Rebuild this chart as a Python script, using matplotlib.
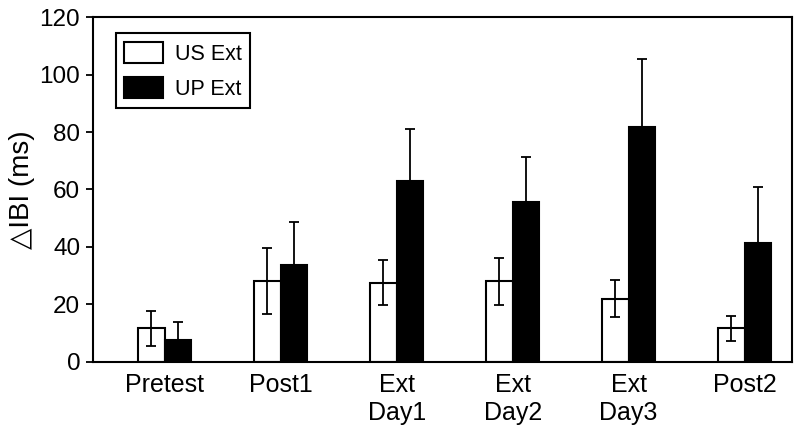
import numpy as np
import matplotlib
matplotlib.use("Agg")
import matplotlib.pyplot as plt

plt.rcParams['font.family'] = ['Liberation Sans', 'DejaVu Sans']

# data
sessions = ['Pretest', 'Post1', 'Ext\nDay1', 'Ext\nDay2', 'Ext\nDay3', 'Post2']
us_ext = [11.6, 28.1, 27.5, 28.1, 22.0, 11.6]
us_err = [6.0, 11.5, 7.9, 8.2, 6.4, 4.5]
up_ext = [7.6, 33.7, 62.8, 55.6, 81.7, 41.5]
up_err = [6.4, 15.1, 18.4, 15.7, 23.6, 19.4]

x = np.arange(len(sessions))
w = 0.23

fig = plt.figure(figsize=(8, 4.32), dpi=100)
ax = fig.add_axes([0.1159, 0.1627, 0.8737, 0.7973])

ax.bar(x - w/2, us_ext, w, color='white', edgecolor='black', linewidth=1.5, label='US Ext', zorder=2)
ax.bar(x + w/2, up_ext, w, color='black', edgecolor='black', linewidth=1.5, label='UP Ext', zorder=2)
ax.errorbar(x - w/2, us_ext, yerr=us_err, fmt='none', ecolor='black', elinewidth=1.3,
            capsize=3.3, capthick=1.3, zorder=3)
ax.errorbar(x + w/2, up_ext, yerr=[np.zeros(len(up_err)), up_err], fmt='none', ecolor='black',
            elinewidth=1.3, capsize=3.3, capthick=1.3, zorder=1)

ax.set_xlim(-0.62, 5.405)
ax.set_ylim(0, 120)
ax.set_yticks(range(0, 121, 20))
ax.set_xticks(x)
ax.set_xticklabels(sessions, fontsize=18, linespacing=1.2)
ax.tick_params(axis='x', length=0, pad=8)
ax.tick_params(axis='y', direction='out', length=5, width=1.3, labelsize=17.5, pad=4)
for s in ax.spines.values():
    s.set_linewidth(1.5)

# thin-stroke triangle as in the original
ax.set_ylabel('\u25b3IBI (ms)', fontsize=20, labelpad=3)

leg = ax.legend(loc='upper left', bbox_to_anchor=(0.033, 0.954), borderaxespad=0,
                fontsize=15.5, fancybox=False, framealpha=1, edgecolor='black',
                handlelength=1.8, handleheight=1.15, handletextpad=0.55,
                labelspacing=0.55, borderpad=0.4)
leg.get_frame().set_linewidth(1.5)

fig.savefig('out.png', dpi=100)
